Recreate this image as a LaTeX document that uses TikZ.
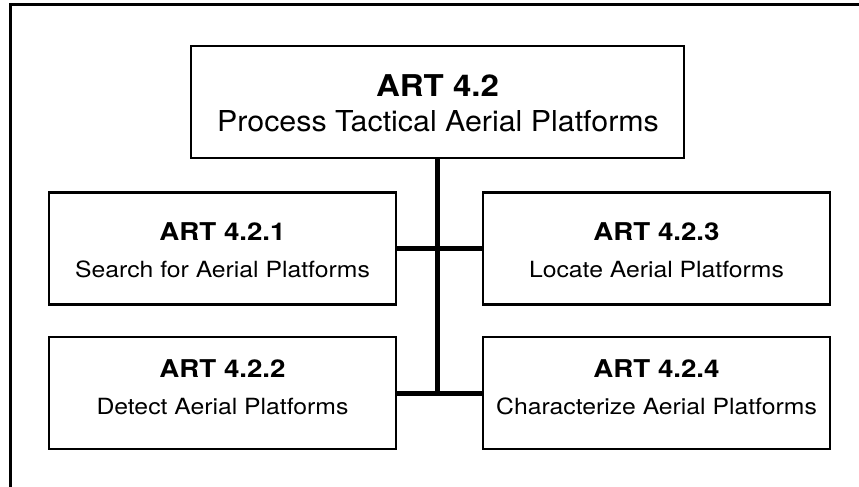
\documentclass[tikz,border=0pt]{standalone}
\usepackage{fontspec}
\setmainfont{TeX Gyre Heros}
\usepackage{graphicx}
\begin{document}
\begin{tikzpicture}[x=1pt,y=-1pt,
  box/.style={draw=black,line width=2.6pt,rectangle,inner sep=0pt,fill=white},
  smallbox/.style={box,minimum width=347pt,minimum height=112pt},
  conn/.style={line width=5pt},
  frame/.style={line width=3pt},
  ttl/.style={anchor=base,inner sep=0pt,font=\fontsize{24.5}{27}\selectfont\bfseries},
  sub/.style={anchor=base,inner sep=0pt,font=\fontsize{22.3}{25}\selectfont}]
\useasboundingbox (0,0) rectangle (859,487);
% outer frame (only left and top edges visible)
\coordinate (fa) at (10,487);
\coordinate (fb) at (10,5);
\coordinate (fc) at (859,5);
\draw[frame] (fa) -- (fb) -- (fc);
% boxes
\node[box,minimum width=493pt,minimum height=112pt] (top) at (437.5,102) {};
\node[smallbox] (b1) at (222.5,248.5) {};
\node[smallbox] (b2) at (222.5,393) {};
\node[smallbox] (b3) at (656.5,248.5) {};
\node[smallbox] (b4) at (656.5,393) {};
% connectors
\coordinate (j2) at (top.south |- b2.east);
\draw[conn] (top.south) -- (j2);
\draw[conn] (b1.east) -- (b3.west);
\draw[conn] (b2.east) -- (b4.west);
% texts
\node[anchor=base,inner sep=0pt,font=\fontsize{30}{33}\selectfont\bfseries] (tt) at (437.5,96) {\scalebox{1.1}[1]{ART 4.2}};
\node[anchor=base,inner sep=0pt,font=\fontsize{28.8}{31}\selectfont] (ts) at (438,131) {\scalebox{1.055}[1]{Process Tactical Aerial Platforms}};
\node[ttl] (t1) at (222.5,240) {\scalebox{1.13}[1]{ART 4.2.1}};
\node[sub] (s1) at (222.5,277) {\scalebox{1.11}[1]{Search for Aerial Platforms}};
\node[ttl] (t2) at (222.5,377) {\scalebox{1.13}[1]{ART 4.2.2}};
\node[sub] (s2) at (222.5,414) {\scalebox{1.11}[1]{Detect Aerial Platforms}};
\node[ttl] (t3) at (656.5,240) {\scalebox{1.13}[1]{ART 4.2.3}};
\node[sub] (s3) at (656.5,277) {\scalebox{1.11}[1]{Locate Aerial Platforms}};
\node[ttl] (t4) at (656.5,377) {\scalebox{1.13}[1]{ART 4.2.4}};
\node[sub] (s4) at (656.5,414) {\scalebox{1.11}[1]{Characterize Aerial Platforms}};
\end{tikzpicture}
\end{document}
